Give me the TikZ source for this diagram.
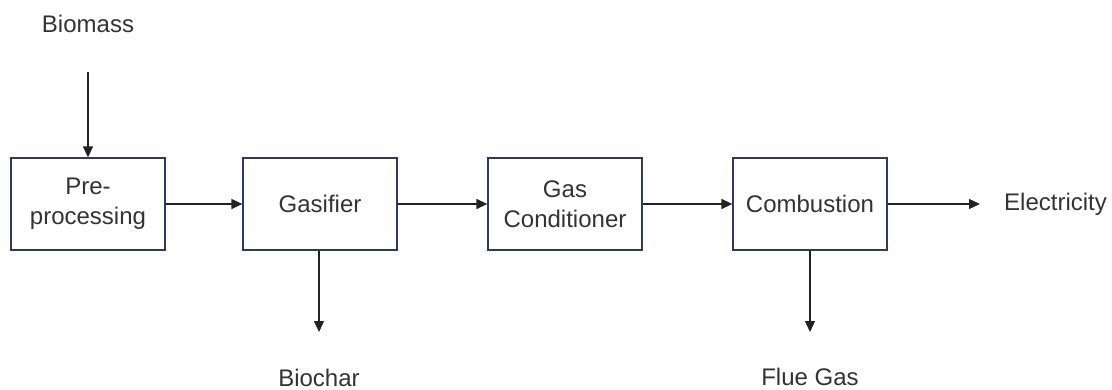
\documentclass[tikz,border=0pt]{standalone}
\usepackage{fontspec}
\setmainfont{Liberation Sans}
\usetikzlibrary{arrows.meta}
\definecolor{boxcol}{HTML}{2E3A63}
\definecolor{txtcol}{HTML}{333333}
\definecolor{arrcol}{HTML}{222222}
\begin{document}
\begin{tikzpicture}[x=1pt,y=-1pt,
  proc/.style={draw=boxcol,line width=1.3pt,minimum width=154pt,minimum height=92pt,
    align=center,text=txtcol,font=\fontsize{24}{30}\selectfont,inner sep=0pt},
  lbl/.style={text=txtcol,font=\fontsize{24}{30}\selectfont,inner sep=0pt},
  flow/.style={draw=arrcol,line width=1.3pt,-{Triangle[length=11pt,width=10pt]}}]
\useasboundingbox (0,0) rectangle (1112,389);
\node[proc] (pre) at (88,204) {Pre-\\processing};
\node[proc] (gas) at (320,204) {Gasifier};
\node[proc] (cond) at (565,204) {Gas\\Conditioner};
\node[proc] (comb) at (810,204) {Combustion};
\node[lbl] (bio) at (88,24) {Biomass};
\node[lbl] (char) at (319,378) {Biochar};
\node[lbl] (flue) at (810,377) {Flue Gas};
\node[lbl,anchor=west] (elec) at (1004,204) {Electricity};
\coordinate (bioS) at (88,72);
\coordinate (charE) at (319,332);
\coordinate (flueE) at (810,332);
\coordinate (elecE) at (980,204);
\draw[flow] (bioS) -- (pre.north);
\draw[flow] (pre.east) -- (gas.west);
\draw[flow] (gas.east) -- (cond.west);
\draw[flow] (cond.east) -- (comb.west);
\draw[flow] (comb.east) -- (elecE);
\draw[flow] (gas.south -| charE) -- (charE);
\draw[flow] (comb.south) -- (flueE);
\end{tikzpicture}
\end{document}
